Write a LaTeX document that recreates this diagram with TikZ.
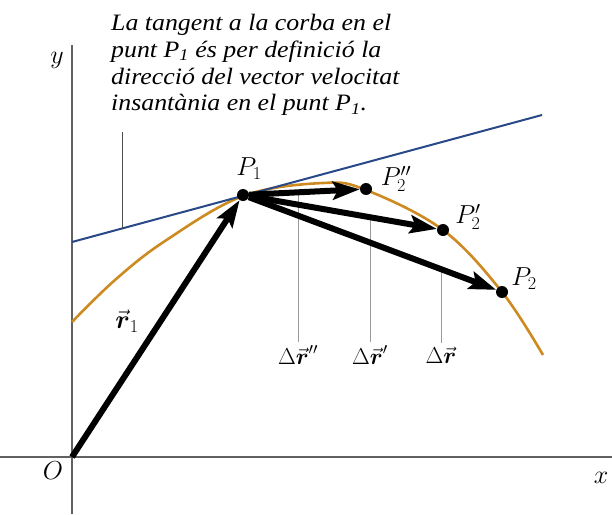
\RequirePackage{fix-cm}
\documentclass[tikz,border=0pt]{standalone}
\usepackage{amsmath}
\usepackage{fontspec}
\newfontfamily\notefont[FakeStretch=1.1]{Liberation Serif}
\usetikzlibrary{arrows.meta,calc}

\definecolor{curveorange}{RGB}{204,138,32}
\definecolor{tangblue}{RGB}{40,72,135}

\begin{document}
\begin{tikzpicture}[
    x=1pt, y=-1pt,
    every node/.style={font=\fontsize{26}{30}\selectfont},
    small/.style={font=\fontsize{23}{26}\selectfont},
    axis/.style={draw=black!62, line width=1.6pt},
    guide/.style={draw=black!40, line width=0.9pt},
    callout/.style={draw=black!70, line width=0.8pt},
    curve/.style={draw=curveorange, line width=2.6pt},
    tang/.style={draw=tangblue, line width=2pt},
    vec/.style={line width=6pt, -{Stealth[length=27pt,width=18pt,inset=5pt]}},
    dot/.style={circle, fill=black, inner sep=0pt, minimum size=12pt},
    note/.style={font=\notefont\itshape\fontsize{23.5}{26.8}\selectfont,
                 align=left, anchor=north west, inner sep=0pt}
  ]
  \useasboundingbox (0,0) rectangle (612,514);

  % Eixos
  \coordinate (o)  at (72,457);
  \coordinate (xl) at (0,457);
  \coordinate (xr) at (612,457);
  \coordinate (yt) at (72,45);
  \coordinate (yb) at (72,514);
  \draw[axis] (xl) -- (xr);
  \draw[axis] (yb) -- (yt);
  \node (lo) at (53,471) {$O$};
  \node (ly) at (57,60)  {$y$};
  \node (lx) at (601,478) {$x$};

  % Nota
  \node[note] (txt) at (111,14)
    {La tangent a la corba en el\\
     punt P\textsubscript{1} és per definició la\\
     direcció del vector velocitat\\
     insantània en el punt P\textsubscript{1}.};

  % Corba i tangent
  \draw[curve] plot[smooth, tension=0.6] coordinates
    {(72,322) (115,280) (165,241) (243,196) (323,183) (366,190)
     (443,230) (502,292) (543,355)};
  \coordinate (t1) at (72,242);
  \coordinate (t2) at (542,115);
  \draw[tang] (t1) -- (t2);
  \coordinate (c1) at (122,228.5);
  \coordinate (c2) at (122,132);
  \draw[callout] (c1) -- (c2);

  % Punts
  \node[dot] (p1)   at (243,195) {};
  \node[dot] (p2pp) at (366,189) {};
  \node[dot] (p2p)  at (443,230) {};
  \node[dot] (p2)   at (502,292) {};
  \node (lp1)   at (249,169) {$P_1$};
  \node (lp2pp) at (396,179) {$P_2''$};
  \node (lp2p)  at (468,217) {$P_2'$};
  \node (lp2)   at (524,279) {$P_2$};

  % Desplacaments
  \node[small] (dpp) at (298,355) {$\Delta\vec{\boldsymbol{r}}''$};
  \node[small] (dp)  at (370,355) {$\Delta\vec{\boldsymbol{r}}'$};
  \node[small] (d)   at (441,355) {$\Delta\vec{\boldsymbol{r}}$};
  \path (p1) -- (p2pp) coordinate[pos=0.40] (cpp);
  \path (p1) -- (p2p)  coordinate[pos=0.60] (cp);
  \path (p1) -- (p2)   coordinate[pos=0.76] (c);
  \draw[guide] (dpp.north) -- (dpp.north |- cpp);
  \draw[guide] (dp.north)  -- (dp.north |- cp);
  \draw[guide] (d.north)   -- (d.north |- c);

  % Vectors
  \draw[vec] (o) -- (p1);
  \foreach \n in {p2pp,p2p,p2}{
    \draw[vec] (p1) -- (\n);
  }
  \node (lr1) at (127,321) {$\vec{\boldsymbol{r}}_1$};
\end{tikzpicture}
\end{document}
